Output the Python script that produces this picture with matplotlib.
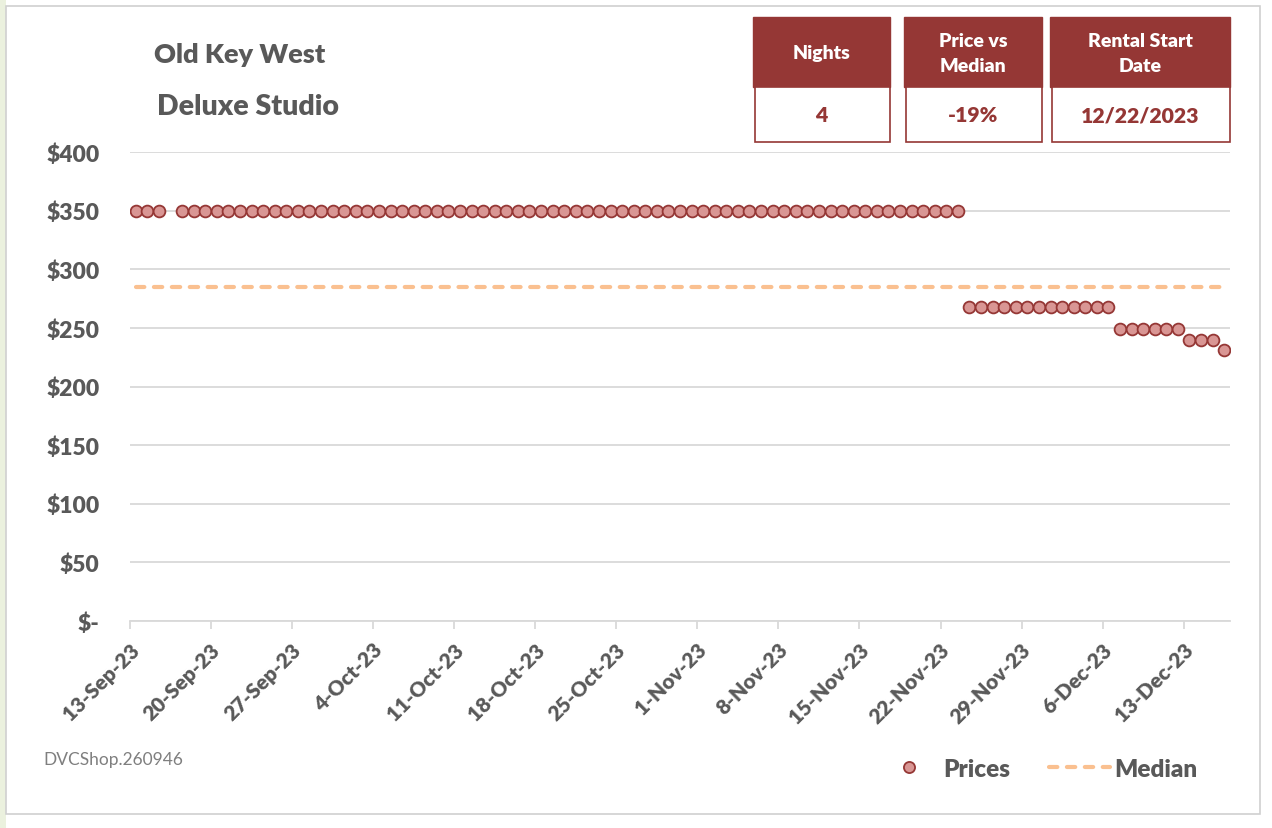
import matplotlib
matplotlib.use("Agg")
import matplotlib.pyplot as plt
import matplotlib.dates as mdates
import matplotlib.transforms as mtransforms
from matplotlib.patches import Rectangle
from matplotlib.lines import Line2D
import pandas as pd
import numpy as np

plt.rcParams['font.family'] = ['Lato', 'DejaVu Sans']

# data
start_date = "2023-09-13"
prices = [
    350, 350, 350, None, 350, 350, 350, 350, 350, 350,
    350, 350, 350, 350, 350, 350, 350, 350, 350, 350,
    350, 350, 350, 350, 350, 350, 350, 350, 350, 350,
    350, 350, 350, 350, 350, 350, 350, 350, 350, 350,
    350, 350, 350, 350, 350, 350, 350, 350, 350, 350,
    350, 350, 350, 350, 350, 350, 350, 350, 350, 350,
    350, 350, 350, 350, 350, 350, 350, 350, 350, 350,
    350, 350, 268, 268, 268, 268, 268, 268, 268, 268,
    268, 268, 268, 268, 268, 249, 249, 249, 249, 249,
    249, 240, 240, 240, 231,
]
median_price = 285
y_ticks = [0, 50, 100, 150, 200, 250, 300, 350, 400]
y_labels = ["$-", "$50", "$100", "$150", "$200", "$250", "$300", "$350", "$400"]
title_lines = ["Old Key West", "Deluxe Studio"]
info_headers = ["Nights", "Price vs\nMedian", "Rental Start\nDate"]
info_values = ["4", "-19%", "12/22/2023"]
watermark = "DVCShop.260946"

W, H = 1272, 829
RED = "#953735"
GRAY = "#595959"
BOLD = "heavy"

dates = pd.date_range(start_date, periods=len(prices), freq="D")
xpos = mdates.date2num(dates) + 0.5
yvals = np.array([np.nan if p is None else p for p in prices], dtype=float)


def fx(px):
    return px / W


def fy(py):
    return 1 - py / H


fig = plt.figure(figsize=(W / 100, H / 100), dpi=100)
fig.patch.set_facecolor("white")

# spreadsheet edge and chart frame
fig.add_artist(Rectangle((0, 0), fx(6), 1, transform=fig.transFigure,
                         facecolor="#ebf1de", edgecolor="none", zorder=0))
fig.add_artist(Rectangle((fx(6), fy(815)), fx(1260 - 6), fy(7) - fy(815),
                         transform=fig.transFigure, facecolor="white",
                         edgecolor="#d0d0d0", linewidth=1.2, zorder=0))

ax = fig.add_axes([fx(130), fy(622), fx(1230 - 130), fy(153) - fy(622)])
ax.set_facecolor("none")

ax.scatter(xpos, yvals, s=72, facecolor="#d99694", edgecolor=RED,
           linewidth=1.3, zorder=3)
ax.plot([xpos[0], xpos[-1]], [median_price, median_price], color="#fac090",
        linewidth=3, dashes=(2.0, 2.3), dash_capstyle="round", zorder=2)

x0 = mdates.date2num(dates[0])
ax.set_xlim(x0, x0 + 95)
ax.set_ylim(0, 400)

ax.set_yticks(y_ticks)
ax.set_yticklabels(y_labels, fontsize=16.5, fontweight=BOLD, color=GRAY)
ax.yaxis.grid(True, color="#d9d9d9", linewidth=1.3)
ax.set_axisbelow(True)

# weekly date ticks, labels drawn as texts so they can sit off the tick
tick_dates = pd.date_range(start_date, periods=14, freq="7D")
tick_x = mdates.date2num(tick_dates)
ax.set_xticks(tick_x)
ax.set_xticklabels([])
shift = mtransforms.ScaledTranslation(6 / 100, -25 / 100, fig.dpi_scale_trans)
for tx, d in zip(tick_x, tick_dates):
    ax.text(tx, 0, d.strftime("%-d-%b-%y"), transform=ax.get_xaxis_transform() + shift,
            rotation=45, ha="right", va="center", rotation_mode="anchor",
            fontsize=15, fontweight=BOLD, color=GRAY, clip_on=False)

for s in ["top", "right", "left"]:
    ax.spines[s].set_visible(False)
ax.spines["bottom"].set_color("#d9d9d9")
ax.spines["bottom"].set_linewidth(1.3)
ax.tick_params(axis="y", length=0, pad=22)
ax.tick_params(axis="x", length=6, color="#d9d9d9", width=1.3)

# titles
fig.text(fx(240), fy(55), title_lines[0], fontsize=19.5, fontweight=BOLD,
         color=GRAY, ha="center", va="center")
fig.text(fx(248), fy(107), title_lines[1], fontsize=20.5, fontweight=BOLD,
         color=GRAY, ha="center", va="center")

# info boxes
boxes = [(753, 890), (904, 1042), (1050, 1230)]
for (l, r), head, val in zip(boxes, info_headers, info_values):
    fig.add_artist(Rectangle((fx(l), fy(88)), fx(r - l), fy(18) - fy(88),
                             transform=fig.transFigure, facecolor=RED,
                             edgecolor=RED, zorder=2))
    fig.add_artist(Rectangle((fx(l + 2), fy(143)), fx(r - l - 2), fy(88) - fy(143),
                             transform=fig.transFigure, facecolor="white",
                             edgecolor=RED, linewidth=1.2, zorder=2))
    fig.text(fx((l + r) / 2), fy(54), head, fontsize=14, fontweight=BOLD,
             color="white", ha="center", va="center", linespacing=1.55, zorder=3)
    fig.text(fx((l + r) / 2), fy(116), val, fontsize=15.3, fontweight=BOLD,
             color=RED, ha="center", va="center", zorder=3)

# watermark
fig.text(fx(43), fy(760), watermark, fontsize=12.5, color="#7f7f7f",
         ha="left", va="center")

# legend
handles = [
    Line2D([], [], linestyle="none", marker="o", markersize=8,
           markerfacecolor="#d99694", markeredgecolor=RED, markeredgewidth=1.3),
    Line2D([], [], color="#fac090", linewidth=3, dashes=(2.0, 2.3),
           dash_capstyle="round"),
]
leg = fig.legend(handles, ["Prices", "Median"], loc="center",
                 bbox_to_anchor=(fx(1038), fy(770)), ncol=2, frameon=False,
                 handlelength=2.5, handletextpad=0.15, columnspacing=1.6,
                 borderpad=0, prop={"size": 17.5, "weight": BOLD})
for t in leg.get_texts():
    t.set_color(GRAY)

fig.savefig("out.png", dpi=100, facecolor="white")
